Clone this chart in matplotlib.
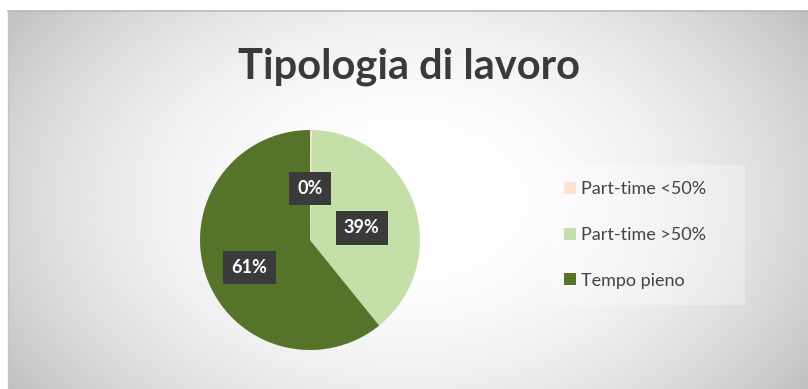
import numpy as np
import matplotlib.pyplot as plt
from matplotlib.patches import Patch

categories = ['Part-time <50%', 'Part-time >50%', 'Tempo pieno']
values = [0.3, 39, 61]
labels = ['0%', '39%', '61%']
colors = ['#fbe3d3', '#c5dfa9', '#55742a']

plt.rcParams['font.family'] = ['Lato', 'DejaVu Sans']

fig = plt.figure(figsize=(8.08, 3.89), dpi=100)

# radial gray background
bg = fig.add_axes([8 / 808, 0, 800 / 808, 378 / 389])
yy, xx = np.mgrid[-1:1:200j, -1:1:400j]
r = np.sqrt((xx / 1.1) ** 2 + (yy / 1.6) ** 2)
bg.imshow(1 - 0.2 * np.clip(r, 0, 1.3) ** 2.2, cmap='gray', vmin=0, vmax=1,
          aspect='auto', extent=[0, 1, 0, 1])
bg.set_axis_off()
bg.plot([0, 1], [1, 1], color='#b8b8b8', lw=1.2, transform=bg.transAxes, clip_on=False)
bg.plot([0, 0], [0, 1], color='#c4c4c4', lw=1, transform=bg.transAxes, clip_on=False)

fig.text(409 / 808, 1 - 78 / 389, 'Tipologia di lavoro', ha='center', va='baseline',
         fontsize=30, fontweight='bold', color='#3a3a3a')

ax = fig.add_axes([200 / 808, 1 - 350 / 389, 220 / 808, 220 / 389])
wedges, _ = ax.pie(values, colors=colors, startangle=90, counterclock=False)
ax.set_xlim(-1, 1)
ax.set_ylim(-1, 1)
ax.set_aspect('equal')

label_pos = [(0.0, 0.47), (0.47, 0.11), (-0.55, -0.25)]
for (x, y), lab in zip(label_pos, labels):
    ax.text(x, y, lab, ha='center', va='center', color='white', fontsize=13,
            fontweight='bold',
            bbox=dict(boxstyle='square,pad=0.45', fc='#3b3b3b', ec='none'))

lax = fig.add_axes([553 / 808, 1 - 305 / 389, 192 / 808, 140 / 389])
lax.set_axis_off()
lax.add_patch(plt.Rectangle((0, 0), 1, 1, transform=lax.transAxes,
                            fc='white', alpha=0.3, ec='none'))
handles = [Patch(fc=c, ec='none') for c in colors]
lax.legend(handles, categories, loc='center left', frameon=False, fontsize=13,
           labelspacing=1.65, handlelength=0.65, handleheight=0.65,
           handletextpad=0.3, labelcolor='#444444', borderaxespad=0.2)

fig.savefig('out.png', dpi=100)
